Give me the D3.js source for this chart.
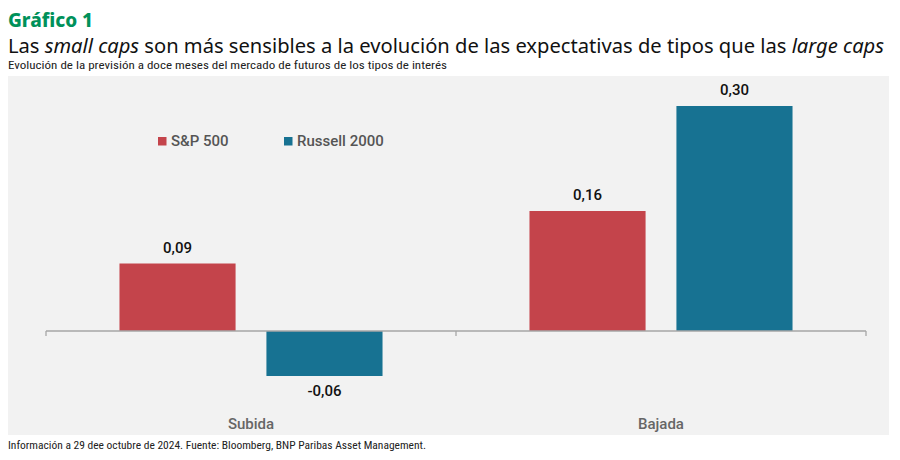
<!DOCTYPE html>
<html><head><meta charset="utf-8">
<script src="https://cdn.jsdelivr.net/npm/d3@7"></script>
<style>
html,body{margin:0;padding:0;background:#fff;}
svg{display:block;}
</style>
</head><body>
<svg id="chart" width="900" height="460"></svg>
<script>
const categories = ["Subida", "Bajada"];
const seriesNames = ["S&P 500", "Russell 2000"];
const spValues = [0.09, 0.16];
const russellValues = [-0.06, 0.30];
const seriesColors = ["#C4444B", "#177292"];

const svg = d3.select("#chart");
const W = 900, H = 460;
const cond = "'Liberation Sans Narrow','Roboto Condensed','Roboto',sans-serif";

// panel
svg.append("rect").attr("x", 8).attr("y", 76).attr("width", 881).attr("height", 359).attr("fill", "#F2F2F2");

// titles
svg.append("text").attr("x", 8).attr("y", 26.5)
  .attr("font-family", "'Noto Sans','Open Sans',sans-serif").attr("font-weight", 800)
  .attr("font-size", 19).attr("fill", "#00915A")
  .attr("textLength", 85).attr("lengthAdjust", "spacingAndGlyphs")
  .text("Gráfico 1");

const title = svg.append("text").attr("x", 8).attr("y", 53)
  .attr("font-family", "'Noto Sans','Open Sans',sans-serif").attr("font-size", 19).attr("fill", "#111");
title.append("tspan").text("Las ");
title.append("tspan").attr("font-style", "italic").text("small caps");
title.append("tspan").text(" son más sensibles a la evolución de las expectativas de tipos que las ");
title.append("tspan").attr("font-style", "italic").text("large caps");
title.attr("textLength", 876).attr("lengthAdjust", "spacingAndGlyphs");

svg.append("text").attr("x", 8).attr("y", 68.5)
  .attr("font-family", cond).attr("font-size", 11.5).attr("fill", "#222")
  .attr("textLength", 439).attr("lengthAdjust", "spacingAndGlyphs")
  .text("Evolución de la previsión a doce meses del mercado de futuros de los tipos de interés");

svg.append("text").attr("x", 8).attr("y", 449)
  .attr("font-family", cond).attr("font-size", 11.5).attr("fill", "#222")
  .attr("textLength", 418).attr("lengthAdjust", "spacingAndGlyphs")
  .text("Información a 29 dee octubre de 2024. Fuente: Bloomberg, BNP Paribas Asset Management.");

// scales
const x0 = d3.scaleBand().domain(categories).range([46, 866]).paddingInner(0).paddingOuter(0);
const x1 = d3.scaleBand().domain(seriesNames).range([0, x0.bandwidth()]).paddingInner(0.21).paddingOuter(0.5);
const y = d3.scaleLinear().domain([0, 0.30]).range([331, 106]);

const data = categories.map((c, i) => ({cat: c, vals: [
  {s: seriesNames[0], v: spValues[i], c: seriesColors[0]},
  {s: seriesNames[1], v: russellValues[i], c: seriesColors[1]}
]}));

const g = svg.append("g");
const groups = g.selectAll("g.grp").data(data).join("g")
  .attr("transform", d => `translate(${x0(d.cat)},0)`);

groups.selectAll("rect").data(d => d.vals).join("rect")
  .attr("x", d => x1(d.s)).attr("width", x1.bandwidth())
  .attr("y", d => y(Math.max(0, d.v))).attr("height", d => Math.abs(y(d.v) - y(0)))
  .attr("fill", d => d.c);

groups.selectAll("text.val").data(d => d.vals).join("text").attr("class", "val")
  .attr("x", d => x1(d.s) + x1.bandwidth() / 2)
  .attr("y", d => d.v >= 0 ? y(d.v) - 11 : y(d.v) + 20)
  .attr("text-anchor", "middle")
  .attr("font-family", "'Roboto',sans-serif").attr("font-weight", 500).attr("font-size", 15).attr("fill", "#111")
  .text(d => d3.format(".2f")(d.v).replace(".", ",").replace("−", "-"));

// axis
const axis = d3.axisBottom(x0).tickSize(4).tickFormat("");
const ax = svg.append("g").attr("transform", `translate(0,${y(0)})`).call(axis);
ax.select(".domain").remove();
ax.selectAll(".tick").remove();
ax.append("line").attr("x1", 46).attr("x2", 866).attr("y1", 0).attr("y2", 0).attr("stroke", "#A6A6A6").attr("stroke-width", 1.3);
[46, 456, 866].forEach(xx => {
  ax.append("line").attr("x1", xx).attr("x2", xx).attr("y1", 0).attr("y2", 5).attr("stroke", "#A6A6A6").attr("stroke-width", 1.3);
});

svg.selectAll("text.cat").data(categories).join("text").attr("class", "cat")
  .attr("x", d => x0(d) + x0.bandwidth() / 2).attr("y", 429)
  .attr("text-anchor", "middle")
  .attr("font-family", "'Roboto',sans-serif").attr("font-weight", 500).attr("font-size", 15).attr("fill", "#666")
  .text(d => d);

// legend
const legX = [158, 284];
const leg = svg.selectAll("g.leg").data(seriesNames).join("g").attr("class", "leg")
  .attr("transform", (d, i) => `translate(${legX[i]},137)`);
leg.append("rect").attr("width", 8.5).attr("height", 8.5).attr("fill", (d, i) => seriesColors[i]);
leg.append("text").attr("x", 13).attr("y", 9)
  .attr("font-family", "'Roboto',sans-serif").attr("font-weight", 500).attr("font-size", 15).attr("fill", "#555")
  .text(d => d);
</script>
</body></html>
